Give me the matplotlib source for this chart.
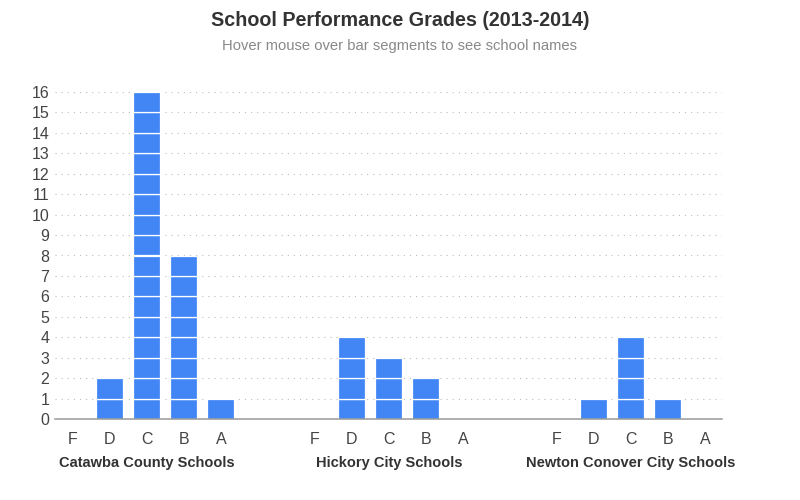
import matplotlib
matplotlib.use("Agg")
import matplotlib.pyplot as plt

districts = ["Catawba County Schools", "Hickory City Schools", "Newton Conover City Schools"]
grades = ["F", "D", "C", "B", "A"]
catawba = [0, 2, 16, 8, 1]
hickory = [0, 4, 3, 2, 0]
newton = [0, 1, 4, 1, 0]
counts = [catawba, hickory, newton]
y_ticks = list(range(0, 17))

title = "School Performance Grades (2013-2014)"
subtitle = "Hover mouse over bar segments to see school names"

bar_color = "#4286F5"
group_step = 6.54
bar_width = 0.73

fig = plt.figure(figsize=(8, 5), dpi=100)
ax = fig.add_axes([0.06875, 0.162, 0.83375, 0.654])

xs_all, labels_all = [], []
for g, vals in enumerate(counts):
    for i, v in enumerate(vals):
        x = g * group_step + i
        xs_all.append(x)
        labels_all.append(grades[i])
        for k in range(v):
            ax.bar(x, 1, bottom=k, width=bar_width, color=bar_color,
                   edgecolor="white", linewidth=0.9, zorder=3)
    ax.text(g * group_step + 2, -0.135, districts[g], transform=ax.get_xaxis_transform(),
            ha="center", va="center", fontsize=10.5, fontweight="bold",
            color="#333333", family="Liberation Sans")

ax.set_xlim(-0.486, 17.54)
ax.set_ylim(0, 16)
ax.set_xticks(xs_all)
ax.set_xticklabels(labels_all, fontsize=11.5, color="#444444", family="Liberation Sans")
ax.set_yticks(y_ticks)
ax.set_yticklabels([str(t) for t in y_ticks], fontsize=11.5, color="#444444", family="Liberation Sans")
ax.tick_params(axis="both", length=0)
ax.tick_params(axis="x", pad=9)
ax.tick_params(axis="y", pad=4)

for s in ["top", "right", "left"]:
    ax.spines[s].set_visible(False)
ax.spines["bottom"].set_color("#999999")
ax.spines["bottom"].set_linewidth(1.1)
ax.spines["bottom"].set_zorder(4)

ax.grid(axis="y", color="#bbbbbb", linestyle=(0, (1, 4.5)), linewidth=0.8, zorder=0)
ax.set_axisbelow(True)

fig.text(0.5, 0.958, title, ha="center", va="center", fontsize=14.2,
         fontweight="bold", color="#333333", family="Liberation Sans")
fig.text(0.5, 0.908, subtitle, ha="center", va="center", fontsize=10.6,
         color="#888888", family="Liberation Sans")

fig.savefig("out.png", dpi=100)
